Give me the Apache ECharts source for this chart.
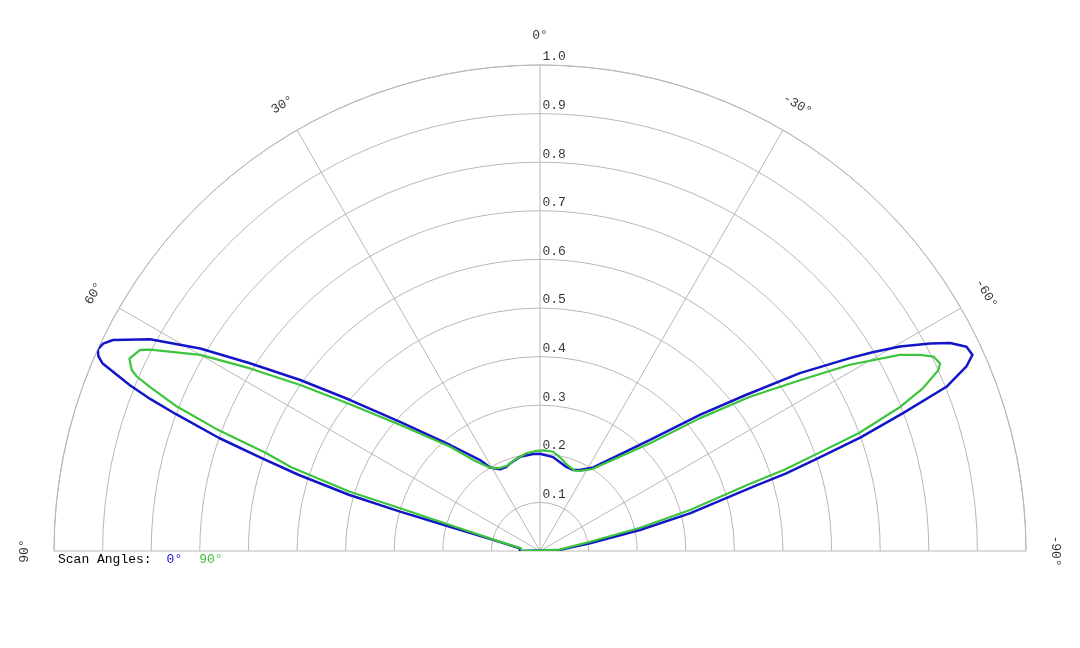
<!DOCTYPE html>
<html>
<head>
<meta charset="UTF-8">
<title>Scan Angles</title>
<script src="https://cdn.jsdelivr.net/npm/echarts@6/dist/echarts.min.js"></script>
<style>
  html, body { margin: 0; padding: 0; background: #fff; }
  #main { width: 1080px; height: 648px; }
</style>
</head>
<body>
<div id="main"></div>
<script>
// angle ticks (deg) and their labels
var angleTicks = [90, 60, 30, 0, -30, -60, -90];
var angleTickLabels = ['90°', '60°', '30°', '0°', '-30°', '-60°', '-90°'];
// radial ticks
var radiusTicks = [0.1, 0.2, 0.3, 0.4, 0.5, 0.6, 0.7, 0.8, 0.9, 1.0];
var radiusTickLabels = ['0.1', '0.2', '0.3', '0.4', '0.5', '0.6', '0.7', '0.8', '0.9', '1.0'];

var seriesNames = ['0°', '90°'];

// scan angle 0 deg
var scan0Angle = [90, 82.3, 76.7, 74.9, 74.3, 73.6, 72.5, 71.6, 70.6, 69.4, 68.7, 68.0, 66.8, 66.2, 65.5, 64.6, 63.7,
  61.5, 59.2, 57.1, 54.5, 51.5, 47.3, 40.3, 33.4, 30.9, 26.1, 22, 19.2, 12, 4, 0,
  -8, -17.7, -22, -26.3, -32.5, -44.7, -49.6, -52.8, -55.6, -58.1, -59.1, -60.4, -62, -63.1, -64.4, -65.6, -66.6,
  -68, -69.2, -70.5, -71.6, -72.5, -73.2, -75.9, -78.1, -81.2, -87, -90];
var scan0Gain = [0.041, 0.042, 0.099, 0.192, 0.299, 0.41, 0.52, 0.6, 0.7, 0.8, 0.86, 0.91, 0.979, 0.993, 1.0, 0.995, 0.98,
  0.913, 0.814, 0.711, 0.606, 0.499, 0.392, 0.286, 0.224, 0.2, 0.187, 0.186, 0.19, 0.198, 0.2, 0.2,
  0.195, 0.181, 0.18, 0.186, 0.204, 0.322, 0.432, 0.53, 0.648, 0.751, 0.795, 0.852, 0.909, 0.946, 0.973, 0.977, 0.956,
  0.902, 0.8, 0.7, 0.6, 0.53, 0.46, 0.318, 0.21, 0.104, 0.04, 0.04];

// scan angle 90 deg
var scan90Angle = [90, 82, 76.9, 73.9, 73.0, 72.7, 71.4, 70.3, 69.4, 68.3, 67.2, 66.6, 66.1, 64.9, 63.3, 62.7, 60,
  57.8, 55.3, 52.3, 48, 40.8, 36, 31, 26.3, 21, 15, 8, 2, -2,
  -7.6, -13, -18, -23, -27, -32.5, -45.6, -50.3, -53.7, -56.7, -59, -61.4, -62.7, -63.7, -64.9, -65.6,
  -67, -68.2, -69.7, -70.7, -71.6, -72.3, -74.7, -77, -79.5, -86, -90];
var scan90Gain = [0.037, 0.04, 0.085, 0.193, 0.301, 0.41, 0.54, 0.6, 0.707, 0.804, 0.871, 0.904, 0.919, 0.933, 0.921, 0.903, 0.807,
  0.705, 0.6, 0.494, 0.388, 0.284, 0.23, 0.2, 0.19, 0.188, 0.195, 0.203, 0.206, 0.207,
  0.206, 0.195, 0.185, 0.18, 0.185, 0.2, 0.317, 0.428, 0.536, 0.64, 0.744, 0.843, 0.88, 0.903, 0.909, 0.9,
  0.855, 0.798, 0.7, 0.6, 0.53, 0.45, 0.32, 0.21, 0.105, 0.04, 0.037];

var gridColor = '#b8b8b8';
var blue = '#1414c8';
var green = '#3cc43c';
var monoFont = '"Liberation Mono", "DejaVu Sans Mono", monospace';

function closedCurve(angles, gains) {
  var pts = [];
  for (var i = 0; i < angles.length; i++) {
    pts.push([gains[i], angles[i]]);
  }
  pts.push([gains[0], angles[0]]); // close the loop along the bottom
  return pts;
}

var angleLabelData = [];
for (var i = 0; i < angleTicks.length; i++) {
  angleLabelData.push({
    value: [1.06, angleTicks[i]],
    label: { formatter: angleTickLabels[i], rotate: angleTicks[i] }
  });
}
var radiusLabelData = [];
for (var j = 0; j < radiusTicks.length; j++) {
  radiusLabelData.push({ value: [radiusTicks[j], 0], label: { formatter: radiusTickLabels[j] } });
}

var myChart = echarts.init(document.getElementById('main'));

var option = {
  animation: false,
  backgroundColor: '#fff',
  title: {
    left: 53,
    top: 548,
    text: '{a|Scan Angles:}{b|' + seriesNames[0] + '}{c|' + seriesNames[1] + '}',
    textStyle: {
      fontWeight: 'normal',
      rich: {
        a: { fontFamily: monoFont, fontSize: 13, fontWeight: 'normal', color: '#000' },
        b: { fontFamily: monoFont, fontSize: 13, fontWeight: 'normal', color: blue, padding: [0, 0, 0, 15] },
        c: { fontFamily: monoFont, fontSize: 13, fontWeight: 'normal', color: green, padding: [0, 0, 0, 17] }
      }
    }
  },
  polar: {
    center: [540, 551],
    radius: 486
  },
  angleAxis: {
    type: 'value',
    min: -90,
    max: 90,
    interval: 30,
    startAngle: 0,
    endAngle: 180,
    clockwise: false,
    axisLine: { show: true, lineStyle: { color: gridColor, width: 1 } },
    axisTick: { show: false },
    axisLabel: { show: false },
    splitLine: { show: true, lineStyle: { color: gridColor, width: 1 } }
  },
  radiusAxis: {
    type: 'value',
    min: 0,
    max: 1,
    interval: 0.1,
    axisLine: { show: false },
    axisTick: { show: false },
    axisLabel: { show: false },
    splitLine: { show: true, lineStyle: { color: gridColor, width: 1 } }
  },
  series: [{
    name: seriesNames[0],
    type: 'line',
    coordinateSystem: 'polar',
    showSymbol: false,
    data: closedCurve(scan0Angle, scan0Gain),
    lineStyle: { color: blue, width: 2.5, join: 'round' },
    z: 3
  }, {
    name: seriesNames[1],
    type: 'line',
    coordinateSystem: 'polar',
    showSymbol: false,
    data: closedCurve(scan90Angle, scan90Gain),
    lineStyle: { color: green, width: 2.2, join: 'round' },
    z: 4
  }, {
    // angle tick labels, just outside the rim
    type: 'scatter',
    coordinateSystem: 'polar',
    clip: false,
    symbolSize: 1,
    itemStyle: { color: 'rgba(0,0,0,0)' },
    silent: true,
    data: angleLabelData,
    label: {
      show: true,
      position: 'inside',
      fontFamily: monoFont,
      fontSize: 13,
      color: '#000'
    }
  }, {
    // radial tick labels along the 0 deg spoke
    type: 'scatter',
    coordinateSystem: 'polar',
    symbolSize: 1,
    itemStyle: { color: 'rgba(0,0,0,0)' },
    silent: true,
    data: radiusLabelData,
    label: {
      show: true,
      position: 'right',
      distance: 2,
      offset: [0, -8],
      fontFamily: monoFont,
      fontSize: 13,
      color: '#000'
    }
  }]
};

myChart.setOption(option);
</script>
</body>
</html>
